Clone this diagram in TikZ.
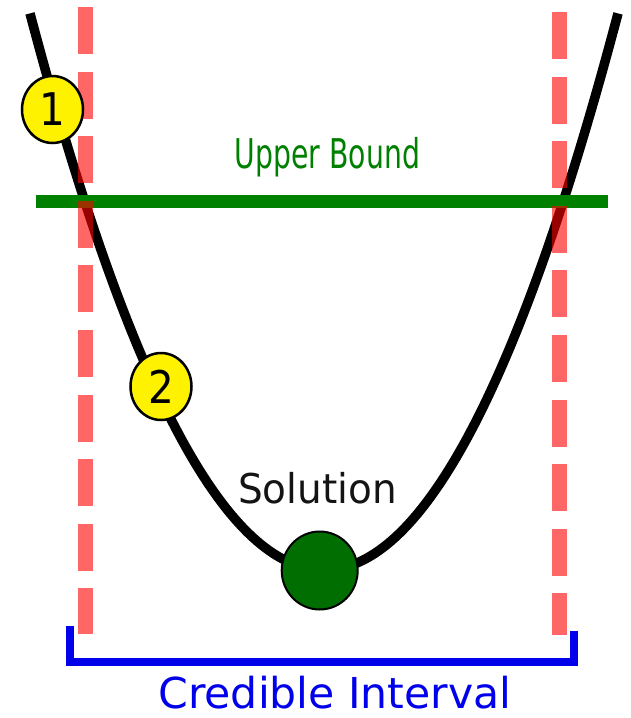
\documentclass[tikz,border=0pt]{standalone}
\usepackage{fontspec}
\setmainfont{DejaVu Sans}
\usetikzlibrary{shapes.geometric}
\definecolor{ubgreen}{RGB}{0,128,0}
\definecolor{solgreen}{RGB}{0,110,0}
\definecolor{ciblue}{RGB}{0,0,235}
\tikzset{
  curveline/.style={line width=9.5pt, black},
  boundline/.style={line width=13pt, ubgreen},
  ciline/.style={red, opacity=0.6, line width=15pt, dash pattern=on 47pt off 17.6pt},
  bracket/.style={line width=8pt, ciblue, miter limit=10},
  numball/.style={ellipse, draw=black, line width=2.5pt, fill=yellow, inner sep=0pt,
    minimum width=61pt, minimum height=67pt, font=\fontsize{45}{45}\selectfont},
  solball/.style={ellipse, draw=black, line width=2pt, fill=solgreen, inner sep=0pt,
    minimum width=76pt, minimum height=78pt},
  lbl/.style={inner sep=0pt, anchor=base}
}
\begin{document}
\begin{tikzpicture}[x=1pt,y=-1pt]
\useasboundingbox (0,0) rectangle (630,718);
% curve
\coordinate (cL) at (30,13.4);
\coordinate (cR) at (618,13.4);
\draw[curveline] (cL) .. controls (226,755.5) and (422,755.5) .. (cR);
% upper bound line
\coordinate (ubL) at (36,201.5);
\coordinate (ubR) at (608,201.5);
\draw[boundline] (ubL) -- (ubR);
\node[lbl, text=ubgreen, font=\fontsize{41}{41}\selectfont] (ub) at (327.5,168) {\scalebox{0.69}[1]{Upper Bound}};
% credible interval dashed lines
\coordinate (lt) at (85.5,7);
\coordinate (lb) at (85.5,634);
\coordinate (rt) at (559.5,12);
\coordinate (rb) at (559.5,635);
\draw[ciline] (lt) -- (lb);
\draw[ciline] (rt) -- (rb);
% numbered points
\node[numball] (n1) at (52.5,109.5) {\scalebox{0.9}[1]{1}};
\node[numball] (n2) at (161,386.5) {\scalebox{0.9}[1]{2}};
% solution
\node[solball] (sol) at (319.7,570.5) {};
\node[lbl, text=black!92, font=\fontsize{41}{41}\selectfont] (soltext) at (317.5,503) {\scalebox{0.95}[1]{Solution}};
% bracket
\coordinate (bl) at (69.5,626);
\coordinate (br) at (574,631);
\draw[bracket] (bl) |- (br |- 0,662) -- (br);
\node[lbl, text=ciblue, font=\fontsize{42.6}{42.6}\selectfont] (ci) at (335,708) {Credible Interval};
\end{tikzpicture}
\end{document}
